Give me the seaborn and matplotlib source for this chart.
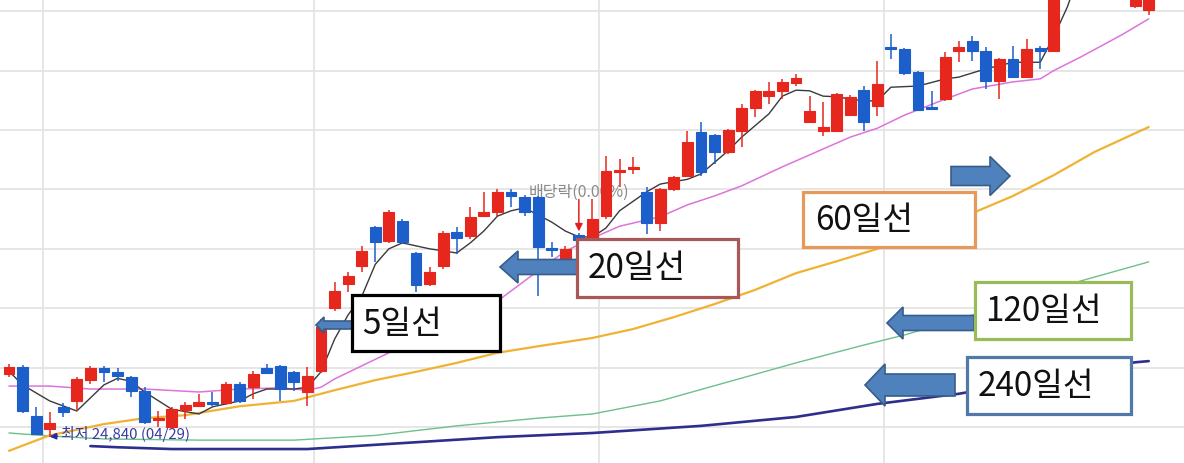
import matplotlib
matplotlib.use("Agg")
import matplotlib.pyplot as plt
from matplotlib.patches import Rectangle, FancyArrow
import seaborn as sns

# 일봉 (원) - 시가 / 고가 / 저가 / 종가
opens = [25890, 26010, 25180, 24970, 25340, 25440, 25790, 25990, 25930, 25840,
         25610, 25120, 25000, 25290, 25350, 25420, 25400, 25720, 25670, 25990,
         26030, 25930, 25590, 25940, 27000, 27410, 27710, 28370, 28130, 28470,
         27930, 27410, 27710, 28280, 28220, 28550, 28620, 28960, 28870, 28870,
         28010, 27830, 28230, 28110, 28550, 29290, 29340, 28960, 28430, 29010,
         29230, 29970, 29920, 29630, 29980, 30370, 30570, 30660, 30790, 30130,
         29980, 29980, 30250, 30670, 30400, 31400, 31360, 30980, 30390, 30520,
         31330, 31500, 31330, 30820, 31190, 30890, 31380, 31330, 32880, 33350,
         33600, 33300, 33000, 32090, 32020]
highs = [26060, 26040, 25340, 25250, 25400, 25840, 26030, 26030, 25990, 25860,
         25670, 25270, 25340, 25420, 25560, 25590, 25760, 25760, 25940, 26060,
         26040, 25940, 26010, 26820, 27440, 27610, 28050, 28380, 28650, 28500,
         27950, 27690, 28300, 28370, 28700, 28960, 29010, 29010, 28910, 28890,
         28110, 28050, 28270, 28840, 29560, 29510, 29550, 29040, 29030, 29230,
         29980, 30130, 29930, 30020, 30440, 30670, 30810, 30860, 30940, 30570,
         30470, 30620, 30590, 30740, 31160, 31620, 31380, 30990, 30660, 31310,
         31500, 31580, 31400, 31210, 31410, 31530, 31410, 32960, 33500, 33700,
         33800, 33400, 33100, 32410, 32340]
lows = [25840, 25240, 24860, 24840, 25170, 25270, 25720, 25760, 25770, 25500,
        25050, 25000, 24970, 25130, 25340, 25350, 25370, 25400, 25470, 25890,
        25440, 25610, 25350, 25910, 26950, 27270, 27610, 27780, 28100, 28080,
        27270, 27370, 27660, 27910, 28160, 28540, 28550, 28700, 28550, 27200,
        27860, 27790, 28060, 28080, 28500, 29040, 29260, 28250, 28300, 28970,
        29210, 29230, 29430, 29600, 29710, 30220, 30440, 30520, 30740, 30120,
        29900, 29970, 30240, 29980, 30240, 31190, 30930, 30320, 30330, 30490,
        31140, 31160, 30690, 30520, 30870, 30870, 31030, 31310, 32800, 33200,
        33200, 32900, 32500, 32050, 31940]
closes = [26010, 25270, 24880, 25070, 25250, 25810, 25990, 25930, 25860, 25610,
          25080, 25150, 25300, 25370, 25420, 25390, 25720, 25440, 25890, 25910,
          25640, 25760, 25860, 26680, 27290, 27540, 27960, 28110, 28620, 28110,
          27390, 27610, 28270, 28180, 28540, 28620, 28960, 28890, 28620, 28030,
          27980, 28000, 28150, 28500, 29310, 29330, 29380, 28430, 29010, 29210,
          29800, 29290, 29630, 30000, 30370, 30660, 30660, 30810, 30880, 30320,
          30050, 30610, 30560, 30130, 30770, 31360, 30960, 30340, 30350, 31230,
          31400, 31330, 30820, 31190, 30890, 31360, 31330, 32880, 33350, 33600,
          33300, 33000, 32600, 32370, 32290]

# 이동평균선 (캔들 번호, 값)
ma5_idx = [0, 1, 3, 5, 7, 8, 9, 10, 12, 14, 15, 17, 18, 19, 21, 22, 23, 24, 25, 26,
           27, 28, 29, 30, 31, 33, 34, 35, 36, 37, 38, 40, 41, 42, 43, 44, 45, 46, 47, 48,
           50, 51, 53, 54, 56, 57, 58, 59, 60, 61, 62, 63, 64, 65, 67, 69, 70, 72, 74, 76,
           77, 78, 79, 80, 81, 82, 83, 84]
ma5_val = [25940, 25710, 25440, 25270, 25710, 25820, 25770, 25590, 25300, 25220,
           25340, 25440, 25560, 25640, 25640, 25670, 25930, 26480, 26890, 27200,
           27740, 28000, 28100, 28050, 28000, 27930, 28100, 28300, 28550, 28640,
           28690, 28450, 28300, 28200, 28200, 28350, 28640, 28800, 28960, 29090,
           29170, 29260, 29650, 29880, 30270, 30570, 30670, 30660, 30570, 30560,
           30520, 30490, 30490, 30720, 30740, 30860, 30890, 31030, 31140, 31140,
           31570, 32070, 32710, 33130, 33380, 33470, 33380, 33220]
ma20_idx = [0, 3, 6, 10, 14, 17, 20, 22, 23, 24, 26, 29, 32, 36, 39, 41, 43, 45, 48,
            50, 52, 54, 57, 59, 62, 64, 66, 69, 71, 74, 76, 77, 79, 82, 84]
ma20_val = [25690, 25690, 25640, 25640, 25590, 25640, 25660, 25620, 25670, 25810,
            26030, 26360, 26680, 27120, 27630, 27960, 28180, 28380, 28540, 28740,
            28890, 29060, 29380, 29580, 29880, 30030, 30250, 30520, 30690, 30810,
            30860, 31000, 31230, 31600, 31870]
ma60_idx = [0, 3, 7, 10, 13, 17, 21, 24, 27, 30, 33, 36, 39, 43, 46, 49, 52, 55, 58,
            61, 64, 68, 71, 74, 77, 80, 84]
ma60_val = [24600, 24860, 25050, 25150, 25200, 25350, 25440, 25620, 25790, 25930,
            26080, 26250, 26360, 26500, 26650, 26850, 27070, 27310, 27590, 27790,
            28000, 28350, 28600, 28890, 29240, 29630, 30050]
ma120_idx = [0, 3, 7, 14, 21, 27, 33, 39, 43, 48, 53, 58, 63, 66, 73, 79, 84]
ma120_val = [24900, 24850, 24800, 24780, 24780, 24860, 25020, 25150, 25220, 25440,
             25760, 26080, 26380, 26550, 27020, 27460, 27780]
ma240_idx = [6, 8, 12, 19, 22, 29, 36, 43, 51, 58, 64, 70, 77, 83, 84]
ma240_val = [24680, 24660, 24630, 24630, 24630, 24730, 24830, 24900, 25020, 25170,
             25390, 25560, 25840, 26090, 26110]

month_marks = [2.5, 22.5, 43.5, 64.5]
price_grid = [25000, 26000, 27000, 28000, 29000, 30000, 31000, 32000]
low_idx = 3
low_label = "최저 24,840 (04/29)"
div_idx = 42
div_label = "배당락(0.00%)"

W, H = 1184, 464
UP, DOWN = "#e5271d", "#1d5fca"

sns.set_theme(style="white")
plt.rcParams["font.family"] = ["Noto Sans CJK KR", "DejaVu Sans"]

fig = plt.figure(figsize=(W / 100, H / 100), dpi=100)
ax = fig.add_axes([0, 0, 1, 1])
ax.set_xlim(-0.66, 86.6)
ax.set_ylim(24395, 32205)
ax.set_xticks(month_marks)
ax.set_yticks(price_grid)
ax.grid(True, color="#e2e2e2", lw=1.2)
ax.set_axisbelow(True)
ax.tick_params(length=0, labelbottom=False, labelleft=False)
for s in ax.spines.values():
    s.set_visible(False)

# 이동평균선
ma_styles = [
    (ma240_idx, ma240_val, "#2e2e8c", 1.9),
    (ma120_idx, ma120_val, "#6cc08c", 1.0),
    (ma60_idx, ma60_val, "#f0b233", 1.6),
    (ma20_idx, ma20_val, "#dc74dc", 1.1),
    (ma5_idx, ma5_val, "#3a3a3a", 1.0),
]
for xs, ys, col, lw in ma_styles:
    sns.lineplot(x=xs, y=ys, ax=ax, color=col, linewidth=lw, zorder=2)

# 캔들
idx = list(range(len(opens)))
cols = [UP if c >= o else DOWN for o, c in zip(opens, closes)]
ax.vlines(idx, lows, highs, colors=cols, lw=1.1, zorder=3)
ax.bar(idx, [c - o for o, c in zip(opens, closes)], bottom=opens, width=0.8,
       color=cols, edgecolor=cols, linewidth=0.8, zorder=4)

# 배당락 표시
ax.annotate("", xy=(div_idx, highs[div_idx]), xytext=(0, 24), textcoords="offset points",
            arrowprops=dict(arrowstyle="-|>", color="#e02020", lw=1.1, mutation_scale=11,
                            shrinkA=0, shrinkB=1), zorder=5)
ax.annotate(div_label, xy=(div_idx, highs[div_idx]), xytext=(0, 29.5),
            textcoords="offset points", ha="center", va="center",
            fontsize=11.5, color="#8a8a8a", zorder=1)

# 최저가 표시
ax.annotate(low_label, xy=(low_idx, lows[low_idx]), xytext=(11, 4),
            textcoords="offset pixels", ha="left", va="center", fontsize=10.8,
            color="#3a3aa0", zorder=5,
            arrowprops=dict(arrowstyle="-|>", color="#2828a0", lw=1.2,
                            mutation_scale=9, shrinkA=0, shrinkB=0))


def block_arrow(tail_x, tip_x, yc, shaft, head, head_len):
    ax.add_patch(FancyArrow(tail_x / W, 1 - yc / H, (tip_x - tail_x) / W, 0,
                            width=shaft / H, head_width=head / H,
                            head_length=head_len / W, length_includes_head=True,
                            transform=ax.transAxes, fc="#4f81bd", ec="#385d8a",
                            lw=1.2, zorder=6))


def label_box(text, x0, y0, x1, y1, edge, tx):
    ax.add_patch(Rectangle((x0 / W, 1 - y1 / H), (x1 - x0) / W, (y1 - y0) / H,
                           transform=ax.transAxes, fc="white", ec=edge, lw=2.3,
                           zorder=7))
    ax.text(tx / W, 1 - (y0 + y1) / 2 / H, text, transform=ax.transAxes,
            ha="left", va="center", fontsize=24, color="#111111", zorder=8)


block_arrow(352, 316, 326, 8, 16, 8)
block_arrow(577, 500, 268, 15, 32, 18)
block_arrow(951, 1010, 177, 19, 39, 20)
block_arrow(974, 887, 324, 15, 32, 16)
block_arrow(955, 865, 386, 22, 42, 20)

label_box("5일선", 352, 296, 500, 352, "#000000", 362)
label_box("20일선", 577, 240, 738, 298, "#a85858", 588)
label_box("60일선", 803, 193, 975, 248, "#e59a5c", 815)
label_box("120일선", 975, 283, 1131, 340, "#9bbb59", 985)
label_box("240일선", 967, 358, 1131, 415, "#5078a8", 978)

fig.savefig("out.png", dpi=100)
